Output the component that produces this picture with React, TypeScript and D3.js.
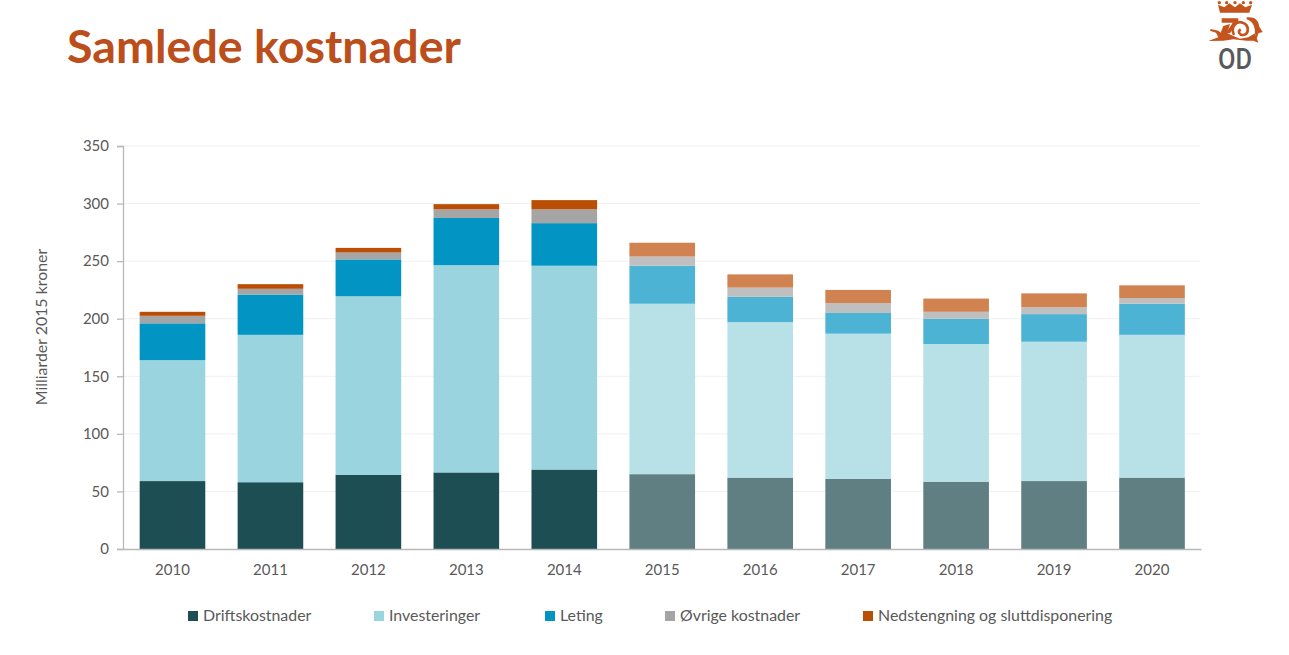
import { useRef, useEffect } from 'react';
import * as d3 from 'd3';

const years = ['2010', '2011', '2012', '2013', '2014', '2015', '2016', '2017', '2018', '2019', '2020'];
const forecastYears = ['2015', '2016', '2017', '2018', '2019', '2020'];

const drift = [59, 58, 64.5, 66.5, 69, 65, 62, 61, 58.5, 59, 62];
const investeringer = [105, 128, 155, 180, 177, 148, 135, 126, 119.5, 121, 124];
const leting = [32, 35, 32, 41, 37, 33, 22, 18, 22, 24, 27];
const ovrige = [6.5, 5, 6, 7.5, 12, 8, 8, 8.5, 6, 6, 5];
const nedstengning = [3.5, 4, 4, 4.5, 8, 12, 11.5, 11.5, 11.5, 12, 11];

const seriesNames = ['Driftskostnader', 'Investeringer', 'Leting', 'Øvrige kostnader', 'Nedstengning og sluttdisponering'];
const seriesValues = [drift, investeringer, leting, ovrige, nedstengning];
const colors = ['#1d4e54', '#9ad4df', '#0295c3', '#a5a5a5', '#bb4e05'];
const lightColors = ['#607f83', '#b8e1e7', '#4db3d5', '#bfbfbf', '#d08350'];
const yTicks = [0, 50, 100, 150, 200, 250, 300, 350];
const legendX = [188, 374, 545, 665, 863];

const FONT = 'Lato, sans-serif';
const LOGO = '#c4541c';

export default function App() {
  const svgRef = useRef<SVGSVGElement>(null);

  useEffect(() => {
    if (!svgRef.current) return;
    const svg = d3.select(svgRef.current);
    svg.selectAll('*').remove();

    const x = d3.scaleBand().domain(years).range([123.5, 1201]).paddingInner(0.33).paddingOuter(0.165);
    const y = d3.scaleLinear().domain([0, 350]).range([549, 146]);

    // Grid
    svg.append('g')
      .selectAll('line')
      .data(yTicks.slice(1))
      .join('line')
      .attr('x1', 123)
      .attr('x2', 1200)
      .attr('y1', (d) => y(d))
      .attr('y2', (d) => y(d))
      .attr('stroke', '#f0f0f0');

    // Stacked bars
    const rows = years.map((year, i) => {
      const row: Record<string, any> = { year };
      seriesNames.forEach((name, s) => { row[name] = seriesValues[s][i]; });
      return row;
    });
    const stacked = d3.stack<any>().keys(seriesNames)(rows);

    stacked.forEach((layer, s) => {
      svg.append('g')
        .selectAll('rect')
        .data(layer)
        .join('rect')
        .attr('x', (d) => x(d.data.year)!)
        .attr('width', x.bandwidth())
        .attr('y', (d) => y(d[1]))
        .attr('height', (d) => y(d[0]) - y(d[1]))
        .attr('fill', (d) => (forecastYears.includes(d.data.year) ? lightColors[s] : colors[s]));
    });

    // Axes
    const yAxis = svg.append('g')
      .attr('transform', 'translate(123,0)')
      .call(d3.axisLeft(y).tickValues(yTicks).tickSize(6).tickPadding(8));
    const xAxis = svg.append('g')
      .attr('transform', 'translate(0,549)')
      .call(d3.axisBottom(x).tickSize(0).tickPadding(15));
    [yAxis, xAxis].forEach((a) => {
      a.selectAll('.domain').attr('stroke', '#b8b8b8').attr('stroke-width', 1.3);
      a.selectAll('line').attr('stroke', '#b8b8b8').attr('stroke-width', 1.3);
      a.selectAll('text')
        .attr('font-family', FONT)
        .attr('font-size', '15px')
        .attr('fill', '#595959');
    });

    // Axis title
    svg.append('text')
      .attr('transform', 'translate(47,327) rotate(-90)')
      .attr('text-anchor', 'middle')
      .attr('font-family', FONT)
      .attr('font-size', '15.9px')
      .attr('fill', '#595959')
      .text('Milliarder 2015 kroner');

    // Legend
    seriesNames.forEach((name, i) => {
      svg.append('rect')
        .attr('x', legendX[i])
        .attr('y', 611)
        .attr('width', 10)
        .attr('height', 10)
        .attr('fill', colors[i]);
      svg.append('text')
        .attr('x', legendX[i] + 15)
        .attr('y', 621)
        .attr('font-family', FONT)
        .attr('font-size', '15.9px')
        .attr('fill', '#595959')
        .text(name);
    });

    // Title
    svg.append('text')
      .attr('x', 67)
      .attr('y', 63)
      .attr('font-family', FONT)
      .attr('font-size', '46.6px')
      .attr('font-weight', 700)
      .attr('fill', '#bb4e1a')
      .text('Samlede kostnader');

    // Logo, drawn in the 3x units of its crop
    const logo = svg.append('g').attr('transform', 'translate(1190,0) scale(0.3333)').attr('fill', LOGO);
    logo.append('path').attr('d', 'M90 38 L84 14 L103 22 L118 10 L135 22 L150 10 L166 22 L186 14 L178 38 Z');
    logo.selectAll('circle')
      .data([88, 110, 135, 160, 182])
      .join('circle')
      .attr('cx', (d) => d)
      .attr('cy', 8)
      .attr('r', 5);
    logo.append('path').attr('d', 'M55 123 L85 112 L78 98 L60 92 L62 87 L85 92 L92 98 L100 78 L120 72 L112 100 L130 108 L150 116 L175 112 L195 100 L205 128 L190 122 L170 122 L130 118 L100 122 Z');
    logo.append('path').attr('d', 'M95 55 L145 55 L145 62 L120 100 L108 100 L128 68 L95 68 Z');
    logo.append('path')
      .attr('d', 'M132 105 C120 80 140 62 158 68 C178 74 178 102 160 105 C148 106 142 94 152 88')
      .attr('fill', 'none')
      .attr('stroke', LOGO)
      .attr('stroke-width', 8);
    logo.append('path').attr('d', 'M170 52 C195 50 205 60 208 80 L218 96 L205 100 L200 118 L195 100 C195 80 190 65 170 58 Z');

    svg.append('text')
      .attr('x', 1218)
      .attr('y', 69)
      .attr('textLength', 34)
      .attr('lengthAdjust', 'spacingAndGlyphs')
      .attr('font-family', 'Roboto, sans-serif')
      .attr('font-size', '30px')
      .attr('font-weight', 500)
      .attr('fill', '#58595b')
      .text('OD');
  }, []);

  return <svg ref={svgRef} width={1289} height={655} style={{ position: 'absolute', left: 0, top: 0 }} />;
}
